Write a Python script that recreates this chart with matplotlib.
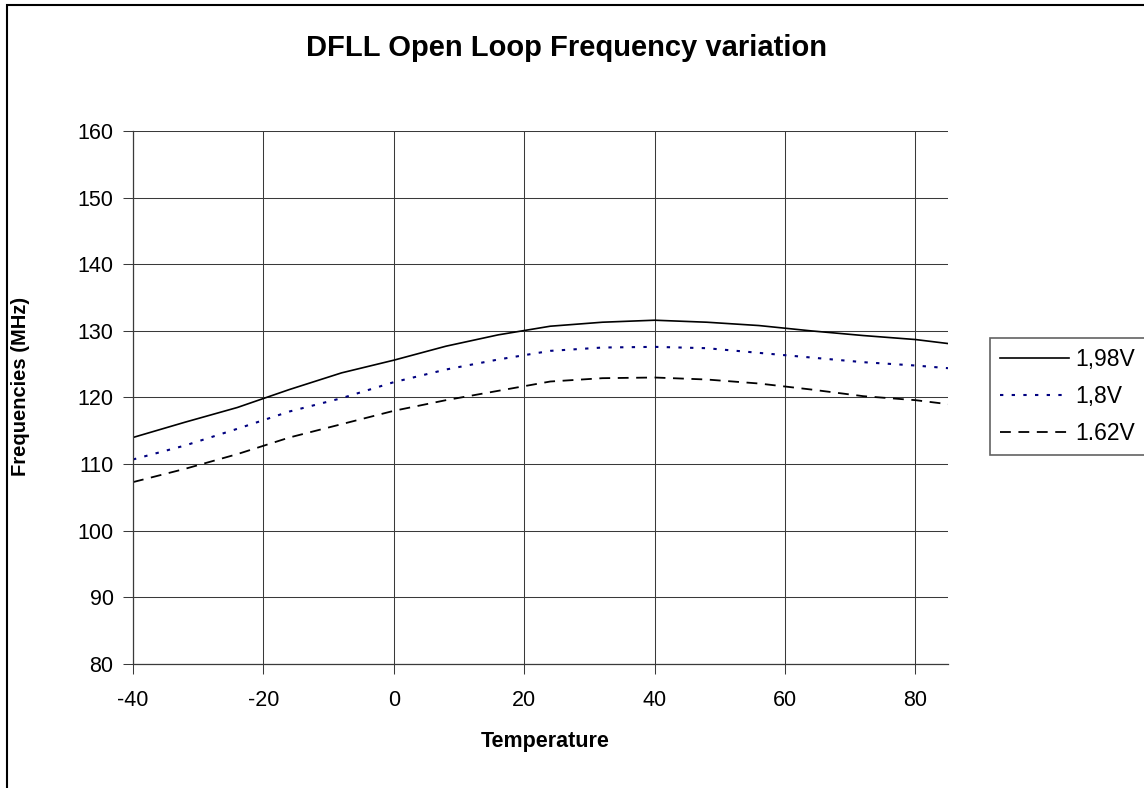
import matplotlib
matplotlib.use('Agg')
import matplotlib.pyplot as plt
from matplotlib.patches import Rectangle

plt.rcParams['font.family'] = ['Liberation Sans', 'DejaVu Sans']
plt.rcParams['axes.unicode_minus'] = False

# temperature points (deg C) and measured open loop frequency (MHz)
temps = [-40, -32, -24, -16, -8, 0, 8, 16, 24, 32, 40, 48, 56, 64, 72, 80, 85]
f_198 = [114.0, 116.3, 118.5, 121.2, 123.7, 125.6, 127.7, 129.4, 130.7, 131.3,
         131.6, 131.3, 130.8, 130.0, 129.3, 128.7, 128.1]
f_180 = [110.7, 112.8, 115.3, 117.9, 119.9, 122.3, 124.2, 125.7, 127.0, 127.5,
         127.6, 127.4, 126.7, 126.0, 125.3, 124.8, 124.4]
f_162 = [107.3, 109.3, 111.5, 114.0, 116.0, 118.0, 119.6, 121.0, 122.4, 122.9,
         123.0, 122.7, 122.1, 121.2, 120.2, 119.6, 119.0]
labels = ['1,98V', '1,8V', '1.62V']
x_ticks = [-40, -20, 0, 20, 40, 60, 80]
y_ticks = [80, 90, 100, 110, 120, 130, 140, 150, 160]

W, H = 1144, 788
fig = plt.figure(figsize=(W / 100, H / 100), dpi=100)
ax = fig.add_axes([133 / W, 1 - 664 / H, (948 - 133) / W, (664 - 131) / H])

ax.plot(temps, f_198, color='black', lw=1.2, label=labels[0])
ax.plot(temps, f_180, color='#000080', lw=1.5, dashes=(1.6, 4.0), label=labels[1])
ax.plot(temps, f_162, color='black', lw=1.3, dashes=(6.0, 4.2), label=labels[2])

ax.set_xlim(-40, 85)
ax.set_ylim(80, 160)
ax.set_xticks(x_ticks)
ax.set_yticks(y_ticks)
ax.grid(True, color='#3a3a3a', lw=0.75)
ax.set_axisbelow(True)
for s in ['top', 'right']:
    ax.spines[s].set_visible(False)
for s in ['left', 'bottom']:
    ax.spines[s].set_color('#3a3a3a')
    ax.spines[s].set_linewidth(0.9)
ax.tick_params(axis='both', direction='out', length=7, width=0.75, color='#3a3a3a',
               labelsize=15.5)
ax.tick_params(axis='y', pad=7)
ax.tick_params(axis='x', pad=12)

fig.text(567 / W, 1 - 48 / H, 'DFLL Open Loop Frequency variation', ha='center', va='center',
         fontsize=21, fontweight='bold')
fig.text(545 / W, 1 - 742 / H, 'Temperature', ha='center', va='center',
         fontsize=15.5, fontweight='bold')
fig.text(21 / W, 1 - 386 / H, 'Frequencies (MHz)', ha='center', va='center',
         rotation=90, fontsize=14.5, fontweight='bold')

leg = ax.legend(loc='upper left', bbox_to_anchor=(990 / W, 1 - 338 / H),
                bbox_transform=fig.transFigure, fontsize=16.5, frameon=True,
                fancybox=False, borderpad=0.45, handlelength=3.0, handletextpad=0.25,
                labelspacing=0.6, borderaxespad=0)
leg.get_frame().set_edgecolor('#3a3a3a')
leg.get_frame().set_linewidth(1.2)

# outer chart border, cut by the image edges on the right and bottom
fig.patches.append(Rectangle((7 / W, -0.1), 1.2, 1.1 - 5 / H, transform=fig.transFigure,
                             fill=False, edgecolor='black', lw=1.5))

fig.savefig('out.png', dpi=100)
